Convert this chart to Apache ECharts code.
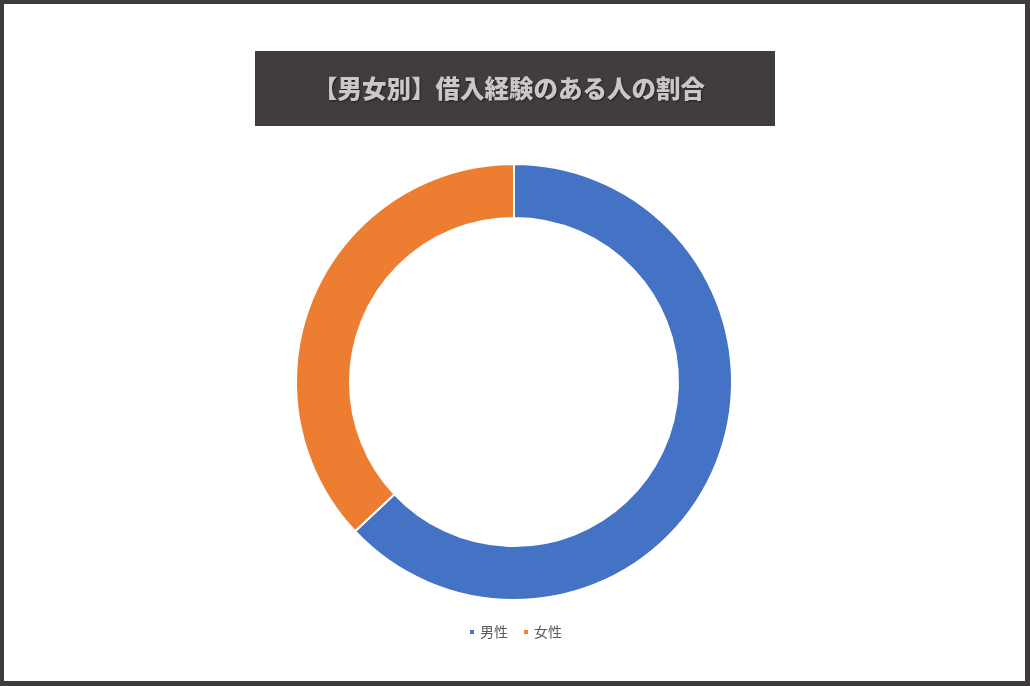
<!DOCTYPE html>
<html>
<head>
<meta charset="utf-8">
<style>
html,body{margin:0;padding:0;background:#fff;}
#frame{position:absolute;left:0;top:0;width:1030px;height:686px;box-sizing:border-box;border-style:solid;border-color:#3f3b3a;border-width:4px 5px 5px 4px;}
#chart{position:absolute;left:0;top:0;width:1030px;height:686px;}
</style>
<script src="https://cdn.jsdelivr.net/npm/echarts@6/dist/echarts.min.js"></script>
</head>
<body>
<div id="chart"></div>
<div id="frame"></div>
<script>
const titleText = '【男女別】借入経験のある人の割合';
const categories = ['男性', '女性'];
const values = [63, 37];
const colors = ['#4472c4', '#ed7d31'];

const chart = echarts.init(document.getElementById('chart'));
chart.setOption({
  animation: false,
  color: colors,
  graphic: [
    {type: 'rect', shape: {x: 255, y: 51, width: 520, height: 75}, style: {fill: '#413d3c'}, z: 0},
    {type: 'text', x: 509, y: 89, style: {text: titleText, align: 'center', verticalAlign: 'middle', fill: '#cbc7c7', font: '900 24.5px "Noto Sans CJK JP"', textShadowColor: 'rgba(0,0,0,0.5)', textShadowBlur: 2, textShadowOffsetX: 1, textShadowOffsetY: 1}, z: 1}
  ],
  legend: {
    data: categories,
    bottom: 42,
    left: 'center',
    icon: 'rect',
    itemWidth: 6,
    itemHeight: 6,
    itemGap: 14,
    textStyle: {color: '#595959', fontSize: 14, fontFamily: '"Noto Sans CJK JP"'}
  },
  series: [{
    type: 'pie',
    center: [514, 382],
    radius: [164, 218],
    startAngle: 90,
    clockwise: true,
    label: {show: false},
    labelLine: {show: false},
    emphasis: {disabled: true},
    itemStyle: {borderColor: '#fff', borderWidth: 2},
    data: categories.map((c, i) => ({name: c, value: values[i]}))
  }]
});
</script>
</body>
</html>
